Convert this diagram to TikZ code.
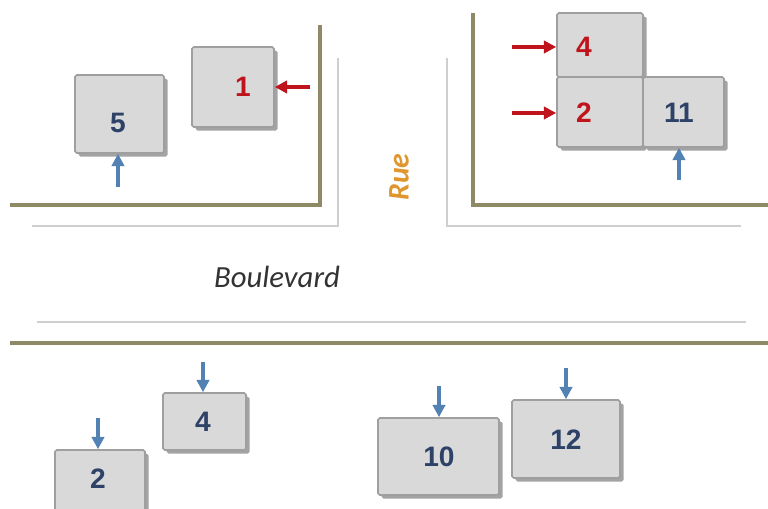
\documentclass[tikz,border=0pt]{standalone}
\usepackage{fontspec}
\setmainfont{Liberation Sans}
\newfontfamily\streetfont{Carlito}
\usetikzlibrary{arrows.meta,shadows}
\definecolor{lotgray}{HTML}{D9D9D9}
\definecolor{curb}{HTML}{8F8A66}
\definecolor{walk}{HTML}{CFCFCF}
\definecolor{navy}{HTML}{2E4268}
\definecolor{arrowblue}{HTML}{5281B3}
\definecolor{arrowred}{HTML}{C0141C}
\definecolor{ruecolor}{HTML}{E0962E}
\begin{document}
\begin{tikzpicture}[x=0.02cm,y=-0.02cm,
    lot/.style={rectangle,draw=gray!75,fill=lotgray,rounded corners=1pt,line width=0.9pt,inner sep=0pt,
                drop shadow={shadow xshift=2pt,shadow yshift=-2pt,fill=gray!90,opacity=0.8}},
    num/.style={font=\bfseries\fontsize{16}{16}\selectfont},
    curbline/.style={curb,line width=1.8pt},
    walkline/.style={walk,line width=1pt},
    redarrow/.style={arrowred,line width=2pt,-{Triangle[length=7pt,width=7pt]}},
    bluearrow/.style={arrowblue,line width=2pt,-{Triangle[length=7pt,width=7pt]}}]

  \path[use as bounding box] (0,0) rectangle (768,509);
  \clip (0,0) rectangle (768,509);

  % Streets
  \draw[curbline] (320,25) -- (320,205) -- (10,205);
  \draw[walkline] (338,58) -- (338,226) -- (32,226);
  \draw[curbline] (473,13) -- (473,205) -- (768,205);
  \draw[walkline] (447,58) -- (447,226) -- (741,226);
  \draw[walkline] (37,322) -- (746,322);
  \draw[curbline] (10,343) -- (768,343);

  \node[font=\streetfont\itshape\fontsize{17.5}{17.5}\selectfont,text=black!80] (blvd) at (277,277) {Boulevard};
  \node[font=\streetfont\bfseries\itshape\fontsize{17}{17}\selectfont,text=ruecolor,rotate=90] (rue) at (399,177) {Rue};

  % Lots
  \foreach \name/\place/\w/\h in {l5/{(119.5,114)}/89/78, l1/{(233,87)}/82/80,
                                  r4/{(600,45)}/86/64, r2/{(600,112)}/86/70, r11/{(683.5,112)}/81/70,
                                  b2/{(100,482.5)}/90/65, b4/{(204.5,421.5)}/83/57,
                                  b10/{(438.5,456.5)}/121/77, b12/{(566,439)}/108/78}
    \node[lot,minimum width=\w*0.02cm,minimum height=\h*0.02cm] (\name) at \place {};

  % Numbers
  \foreach \place/\txt/\col in {{(118,123)}/5/navy, {(243,87)}/1/arrowred,
                                {(584,47)}/4/arrowred, {(584,113)}/2/arrowred, {(679,113)}/11/navy,
                                {(98,479)}/2/navy, {(203,422)}/4/navy, {(439,457)}/10/navy, {(566,440)}/12/navy}
    \node[num,text=\col] at \place {\txt};

  % Entrances
  \coordinate (e1) at (310,87);
  \coordinate (e4) at (512,47);
  \coordinate (e2) at (512,113);
  \coordinate (e5) at (118,187);
  \coordinate (e11) at (679,180);
  \coordinate (f2) at (98,418);
  \coordinate (f4) at (203,362);
  \coordinate (f10) at (439,386);
  \coordinate (f12) at (566,368);

  \draw[redarrow] (e1) -- (e1 -| l1.east);
  \draw[redarrow] (e4) -- (e4 -| r4.west);
  \draw[redarrow] (e2) -- (e2 -| r2.west);
  \foreach \source/\target in {e5/l5, e11/r11}
    \draw[bluearrow] (\source) -- (\source |- \target.south);
  \foreach \source/\target in {f2/b2, f4/b4, f10/b10, f12/b12}
    \draw[bluearrow] (\source) -- (\source |- \target.north);
\end{tikzpicture}
\end{document}
